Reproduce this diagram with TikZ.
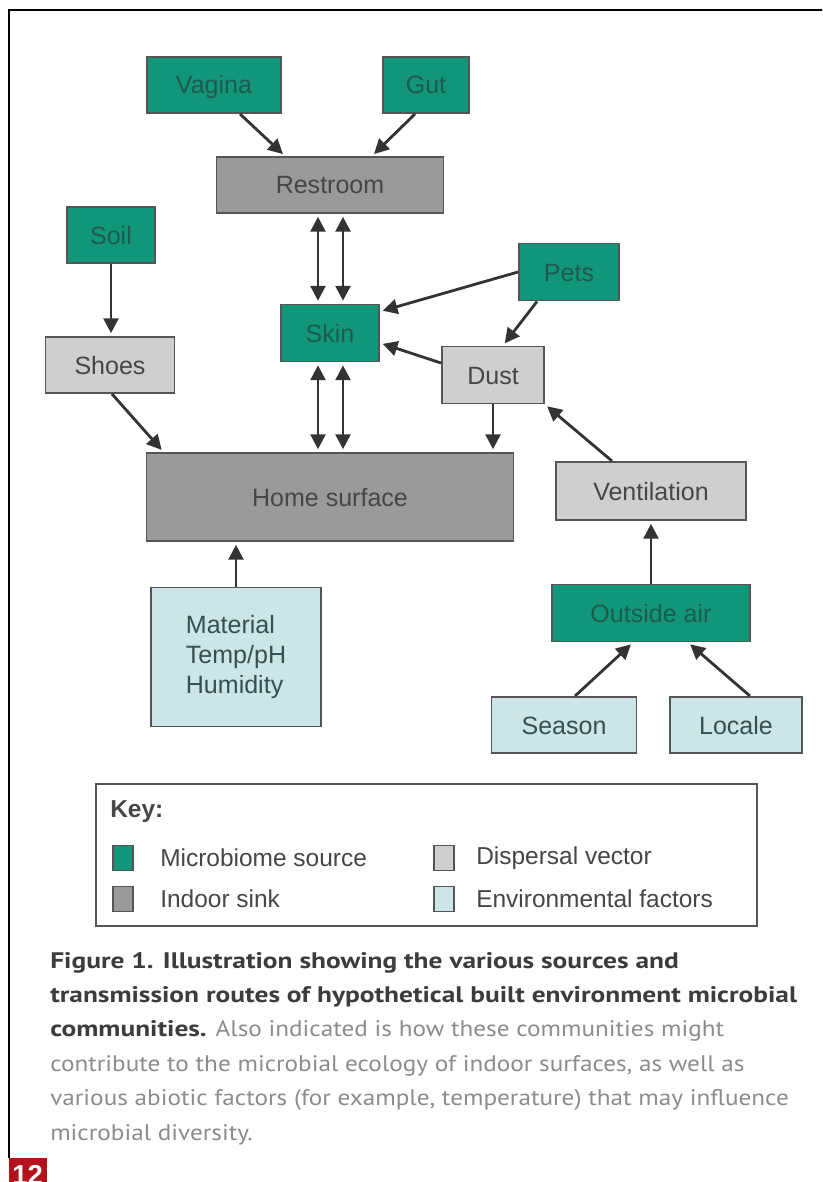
\documentclass[tikz,border=0pt]{standalone}
\usepackage{fontspec}
\setmainfont{Liberation Sans}
\newfontfamily\capfont[FakeStretch=1.12]{PT Sans}
\newfontfamily\capboldfont[FakeStretch=1.218]{PT Sans}
\usetikzlibrary{arrows.meta,calc}

\definecolor{srcgreen}{HTML}{12967A}
\definecolor{srctext}{HTML}{1E5A4E}
\definecolor{sinkgray}{HTML}{9A9A9A}
\definecolor{vecgray}{HTML}{CFCFCF}
\definecolor{envblue}{HTML}{CCE5E6}
\definecolor{envtext}{HTML}{34504F}
\definecolor{edgegray}{HTML}{555555}
\definecolor{arrgray}{HTML}{333333}
\definecolor{boxtext}{HTML}{464646}
\definecolor{capdark}{HTML}{3C3C3C}
\definecolor{caplight}{HTML}{8C8C8C}
\definecolor{pagered}{HTML}{B3121C}

\begin{document}
\begin{tikzpicture}[x=0.025cm, y=-0.025cm,
  sz/.style 2 args={minimum width=#1*0.025cm, minimum height=#2*0.025cm},
  base/.style={draw=edgegray, line width=1.4pt, inner sep=0pt,
    font=\fontsize{17.8}{21.3}\selectfont, text=boxtext},
  box/.style={base, text height=12.8pt, text depth=0pt},
  src/.style={box, fill=srcgreen, text=srctext},
  sink/.style={box, fill=sinkgray},
  vec/.style={box, fill=vecgray},
  env/.style={box, fill=envblue, text=envtext},
  arr/.style={draw=arrgray, line width=2pt,
    -{Triangle[length=10.5pt,width=10.5pt]}, shorten >=2pt},
  darr/.style={arr, {Triangle[length=10.5pt,width=10.5pt]}-{Triangle[length=10.5pt,width=10.5pt]},
    shorten <=2pt},
  sw/.style={draw=edgegray, line width=1.2pt, inner sep=0pt, sz={20}{25}},
  keylbl/.style={anchor=west, inner sep=0pt, text=boxtext,
    font=\fontsize{17.4}{20}\selectfont},
  capline/.style={anchor=base west, inner sep=0pt, text=caplight,
    font=\capfont\fontsize{16}{18}\selectfont}]

  % page frame
  \useasboundingbox (0,0) rectangle (822,1182);
  \clip (0,0) rectangle (822,1182);
  \fill[white] (0,0) rectangle (822,1182);
  \draw[line width=1.5pt] (9,1158) -- (9,10) -- (823,10);

  % sources and sinks
  \node[src, sz={134}{56}] (vagina) at (214,85) {Vagina};
  \node[src, sz={86}{56}] (gut) at (426,85) {Gut};
  \node[sink, sz={227}{56}] (restroom) at (330,185) {Restroom};
  \node[src, sz={88}{56}] (soil) at (111,235) {Soil};
  \node[src, sz={100}{57}] (pets) at (569,272) {Pets};
  \node[src, sz={98}{57}] (skin) at (330,333) {Skin};
  \node[vec, sz={129}{56}] (shoes) at (110,365) {Shoes};
  \node[vec, sz={102}{57}] (dust) at (493,375) {Dust};
  \node[sink, sz={367}{88}] (home) at (330,497) {Home surface};
  \node[vec, sz={190}{58}] (vent) at (651,491) {Ventilation};
  \node[base, fill=envblue, text=envtext, align=left, sz={170}{139}] (abiotic)
    at (236,657) {Material\\Temp/pH\\Humidity};
  \node[src, sz={198}{57}] (outside) at (651,613) {Outside air};
  \node[env, sz={145}{56}] (season) at (564,725) {Season};
  \node[env, sz={132}{56}] (locale) at (736,725) {Locale};

  % transmission routes
  \draw[arr] ($(vagina.south)+(26,0)$) -- ($(restroom.north)+(-45,0)$);
  \draw[arr] ($(gut.south)+(-11,0)$) -- ($(restroom.north)+(42,0)$);
  \foreach \dx in {-12,13} {
    \draw[darr] ($(restroom.south)+(\dx,0)$) -- ($(skin.north)+(\dx,0)$);
    \draw[darr] ($(skin.south)+(\dx,0)$) -- ($(home.north)+(\dx,0)$);
  }
  \draw[arr] (pets.west) -- ($(skin.north east)+(0,8)$);
  \draw[arr] ($(pets.south)+(-32,0)$) -- ($(dust.north)+(10,0)$);
  \draw[arr] ($(dust.west)+(0,-12)$) -- ($(skin.east)+(0,10)$);
  \draw[arr] (dust.south) -- (dust.south |- home.north);
  \draw[arr] ($(vent.north)+(-39,0)$) -- (dust.south east);
  \draw[arr] (soil.south) -- (soil.south |- shoes.north);
  \draw[arr] ($(shoes.south)+(2,0)$) -- ($(home.north west)+(18,0)$);
  \draw[arr] (abiotic.north) -- (abiotic.north |- home.south);
  \draw[arr] (outside.north) -- (vent.south);
  \draw[arr] ($(season.north)+(11,0)$) -- ($(outside.south)+(-18,0)$);
  \draw[arr] ($(locale.north)+(14,0)$) -- ($(outside.south)+(37,0)$);

  % key
  \node[draw=edgegray, line width=1.4pt, sz={661}{142}] (key) at (426.5,855) {};
  \node[keylbl, font=\bfseries\fontsize{17.4}{20}\selectfont] (keytitle) at (110,812) {Key:};
  \node[sw, fill=srcgreen] (sw1) at (123,858) {};
  \node[sw, fill=sinkgray] (sw2) at (123,899) {};
  \node[sw, fill=vecgray] (sw3) at (444,858) {};
  \node[sw, fill=envblue] (sw4) at (444,899) {};
  \node[keylbl] (lbl1) at (160,858) {Microbiome source};
  \node[keylbl] (lbl2) at (160,899) {Indoor sink};
  \node[keylbl] (lbl3) at (476,858) {Dispersal vector};
  \node[keylbl] (lbl4) at (476,899) {Environmental factors};

  % caption
  \node[capline] (cap1) at (50,968)
    {\capboldfont\bfseries\color{capdark}Figure 1. Illustration showing the various sources and};
  \node[capline] (cap2) at (50,1002.4)
    {\capboldfont\bfseries\color{capdark}transmission routes of hypothetical built environment microbial};
  \node[capline] (cap3) at (50,1036.8)
    {{\capboldfont\bfseries\color{capdark}communities.} Also indicated is how these communities might};
  \node[capline] (cap4) at (50,1071.2)
    {contribute to the microbial ecology of indoor surfaces, as well as};
  \node[capline] (cap5) at (50,1105.6)
    {various abiotic factors (for example, temperature) that may influence};
  \node[capline] (cap6) at (50,1140) {microbial diversity.};

  % page number
  \fill[pagered] (9,1158) rectangle (47,1190);
  \node[anchor=base west, inner sep=0pt, text=white,
    font=\bfseries\fontsize{19.5}{20}\selectfont] (pageno) at (12,1184.5) {12};
\end{tikzpicture}
\end{document}
